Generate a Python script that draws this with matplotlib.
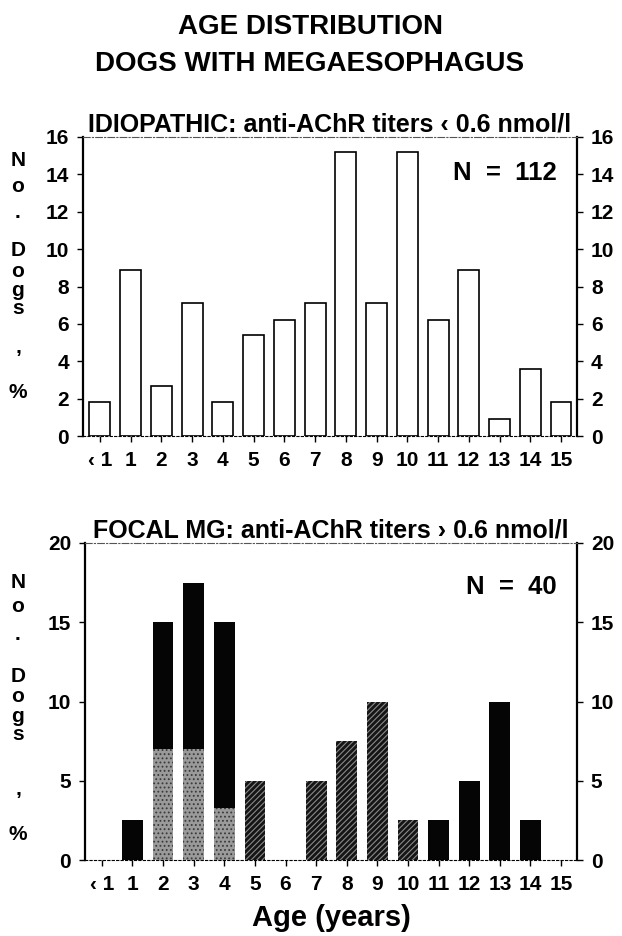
import matplotlib
matplotlib.use('Agg')
import matplotlib.pyplot as plt
import numpy as np

plt.rcParams['font.family'] = ['Liberation Sans', 'DejaVu Sans']
plt.rcParams['font.weight'] = 'bold'
plt.rcParams['hatch.linewidth'] = 0.8

# data (percent of dogs per age class)
ages = ['\u2039 1', '1', '2', '3', '4', '5', '6', '7', '8', '9', '10', '11', '12', '13', '14', '15']
idiopathic = [1.8, 8.9, 2.7, 7.1, 1.8, 5.4, 6.2, 7.1, 15.2, 7.1, 15.2, 6.2, 8.9, 0.9, 3.6, 1.8]
focal_stipple = [0, 0, 7, 7, 3.3, 0, 0, 0, 0, 0, 0, 0, 0, 0, 0, 0]
focal_hatched = [0, 0, 0, 0, 0, 5, 0, 5, 7.5, 10, 2.5, 0, 0, 0, 0, 0]
focal_solid = [0, 2.5, 8, 10.5, 11.7, 0, 0, 0, 0, 0, 0, 2.5, 5, 10, 2.5, 0]
n_idio = 112
n_focal = 40

x = np.arange(len(ages))
W, H = 622, 936
fig = plt.figure(figsize=(W / 100, H / 100), dpi=100)


def px_axes(left, top, right, bottom):
    return fig.add_axes([left / W, 1 - bottom / H, (right - left) / W, (bottom - top) / H])


def style_axes(ax, yticks):
    ax.set_xlim(-0.55, 15.52)
    ax.set_ylim(0, yticks[-1])
    ax.set_xticks(x)
    ax.set_xticklabels(ages)
    ax.set_yticks(yticks)
    ax.tick_params(axis='both', labelsize=15, direction='out', length=4, width=1)
    ax.tick_params(axis='y', right=True, labelright=True, pad=6)
    ax.tick_params(axis='x', pad=7)
    for lab in ax.get_xticklabels() + ax.get_yticklabels():
        lab.set_fontweight('bold')
    for s in ['left', 'right']:
        ax.spines[s].set_linewidth(1.6)
    ax.spines['top'].set_linewidth(0.8)
    ax.spines['top'].set_linestyle((0, (6, 2, 1, 2)))
    ax.spines['top'].set_color('#555555')
    ax.spines['bottom'].set_linewidth(0.8)
    ax.spines['bottom'].set_linestyle((0, (2, 2)))


def stacked_label(ys):
    for ch, y in zip('No.Dogs,%', ys):
        fig.text(18 / W, 1 - y / H, ch, ha='center', va='center', fontsize=15, fontweight='bold')


fig.text(310 / W, 1 - 27 / H, 'AGE DISTRIBUTION', ha='center', va='center', fontsize=20, fontweight='bold')
fig.text(310 / W, 1 - 64 / H, 'DOGS WITH MEGAESOPHAGUS', ha='center', va='center', fontsize=20, fontweight='bold')

# top panel
ax1 = px_axes(83, 137, 577, 436)
ax1.bar(x, idiopathic, width=0.68, facecolor='white', edgecolor='black', linewidth=1.2)
style_axes(ax1, [0, 2, 4, 6, 8, 10, 12, 14, 16])
ax1.set_title('IDIOPATHIC: anti-AChR titers \u2039 0.6 nmol/l', fontsize=18, fontweight='bold', pad=3)
ax1.text(14.85, 14.1, 'N  =  %d' % n_idio, ha='right', va='center', fontsize=18.5, fontweight='bold')
stacked_label([160, 186, 213, 250, 271, 291, 309, 348, 392])

# bottom panel
ax2 = px_axes(85, 543, 577, 860)
plt.rcParams['hatch.color'] = '#3a3a3a'
ax2.bar(x, focal_stipple, width=0.68, facecolor='#9a9a9a', hatch='....', linewidth=0)
plt.rcParams['hatch.color'] = '#8a8a8a'
ax2.bar(x, focal_hatched, width=0.68, facecolor='#151515', hatch='//////', linewidth=0)
ax2.bar(x, focal_solid, width=0.68, bottom=np.add(focal_stipple, focal_hatched), facecolor='#050505', linewidth=0)
style_axes(ax2, [0, 5, 10, 15, 20])
ax2.set_title('FOCAL MG: anti-AChR titers \u203a 0.6 nmol/l', fontsize=18, fontweight='bold', pad=3)
ax2.text(14.85, 17.2, 'N  =  %d' % n_focal, ha='right', va='center', fontsize=18.5, fontweight='bold')
ax2.set_xlabel('Age (years)', fontsize=21, fontweight='bold', labelpad=7)
stacked_label([582, 606, 635, 676, 697, 717, 735, 789, 835])

fig.savefig('out.png', dpi=100)
